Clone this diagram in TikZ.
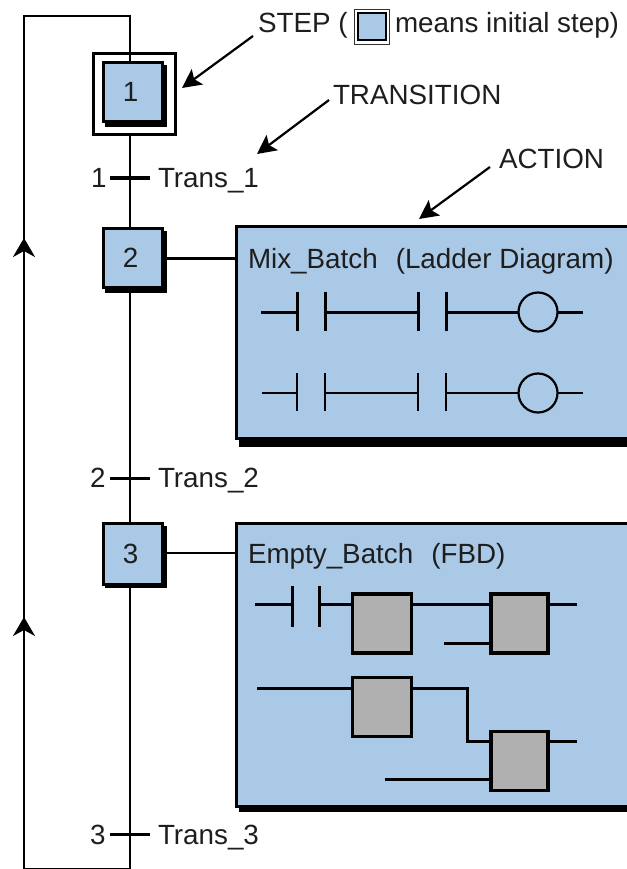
\documentclass[tikz,border=0pt]{standalone}
\usepackage{fontspec}
\setmainfont{Liberation Sans}
\usetikzlibrary{arrows.meta}
\definecolor{stepblue}{HTML}{A9C9E7}
\definecolor{blockgrey}{HTML}{B0B0B0}
\definecolor{ink}{HTML}{1E1E1E}
\tikzset{
  lbl/.style={inner sep=0pt,outer sep=0pt,anchor=base west,text=ink,font=\fontsize{27.8}{30}\selectfont},
  num/.style={inner sep=0pt,outer sep=0pt,anchor=center,text=ink,font=\fontsize{27.8}{30}\selectfont},
  stepbox/.style={draw=black,line width=3pt,fill=stepblue,inner sep=0pt,outer sep=0pt,minimum width=59pt,minimum height=59pt},
  shadowfill/.style={fill=black},
  actionbox/.style={draw=black,line width=3pt,fill=stepblue},
  block/.style={draw=black,line width=3.2pt,fill=blockgrey,inner sep=0pt,outer sep=0pt,minimum width=59pt,minimum height=59pt},
  wire/.style={draw=black,line width=3pt},
  thinwire/.style={draw=black,line width=2pt},
  flow/.style={draw=black,line width=2.2pt},
  pointer/.style={draw=black,line width=2.2pt,-{Stealth[length=19pt,width=19pt,inset=4pt]}},
  uparrow/.style={draw=black,line width=2.2pt,-{Stealth[length=19pt,width=22pt,inset=6pt]}},
}
\begin{document}
\begin{tikzpicture}[x=1pt,y=-1pt]
\useasboundingbox (0,0) rectangle (626,869);
% outer frame of the initial step
\node[draw=black,line width=3pt,fill=white,inner sep=0pt,outer sep=0pt,minimum width=82pt,minimum height=81pt] (s1o) at (134,94.5) {};
% shadows
\fill[shadowfill] (105,65) rectangle (167,127);
\fill[shadowfill] (105,231) rectangle (167,292.5);
\fill[shadowfill] (105,526) rectangle (167,588);
\fill[shadowfill] (239,230) rectangle (630,447);
\fill[shadowfill] (239,526) rectangle (630,812);
% steps
\node[stepbox] (s1) at (132.5,92) {};
\node[num] at (130.5,92) {1};
\node[stepbox] (s2) at (132.5,258) {};
\node[num] at (130.5,258) {2};
\node[stepbox,minimum height=61pt] (s3) at (132.5,553.5) {};
\node[num] at (130.5,553.5) {3};
% action boxes
\node[actionbox,inner sep=0pt,outer sep=0pt,minimum width=394pt,minimum height=212pt] (a1) at (433,332.5) {};
\node[actionbox,inner sep=0pt,outer sep=0pt,minimum width=394pt,minimum height=283pt] (a2) at (433,664.5) {};
% flow line coordinates
\coordinate (top) at (130,16);
\coordinate (topl) at (24,16);
\coordinate (botl) at (24,869.3);
\coordinate (bot) at (130,869.3);
\coordinate (t1) at (130,178);
\coordinate (t2) at (130,478);
\coordinate (t3) at (130,834);
\coordinate (t1a) at (110,178); \coordinate (t1b) at (150,178);
\coordinate (t2a) at (110,478); \coordinate (t2b) at (150,478);
\coordinate (t3a) at (110,834); \coordinate (t3b) at (150,834);
\draw[flow] (130,61) -- (top) -- (topl) -- (botl) -- (bot) -- (130,588);
\draw[flow] (130,136) -- (130,228);
\draw[flow] (130,292) -- (130,522);
\draw[wire] (t1a) -- (t1b);
\draw[wire] (t2a) -- (t2b);
\draw[wire] (t3a) -- (t3b);
\node[lbl] (n1) at (91,187) {1};
\node[lbl] (n2) at (90,487) {2};
\node[lbl] (n3) at (90,844) {3};
\node[lbl] (tr1) at (158,187) {Trans\_1};
\node[lbl] (tr2) at (158,487) {Trans\_2};
\node[lbl] (tr3) at (158,844) {Trans\_3};
% return arrows
\coordinate (u1a) at (24,258); \coordinate (u1b) at (24,238);
\coordinate (u2a) at (24,636); \coordinate (u2b) at (24,617);
\draw[uparrow] (u1a) -- (u1b);
\draw[uparrow] (u2a) -- (u2b);
% action links
\draw[line width=3pt] (165,258) -- (a1.west |- 0,258);
\draw[line width=2pt] (165,553) -- (a2.west |- 0,553);
% callouts
\node[lbl] (stepl) at (258,33) {STEP (};
\node[draw=black!80,line width=1.3pt,fill=white,inner sep=0pt,outer sep=0pt,minimum width=35pt,minimum height=35pt] (legendo) at (372,27) {};
\node[draw=black,line width=1.6pt,fill=stepblue,inner sep=0pt,outer sep=0pt,minimum width=28pt,minimum height=27pt] (legendi) at (372,26.5) {};
\node[lbl] (means) at (395,33) {means initial step)};
\node[lbl] (transl) at (333,105) {TRANSITION};
\node[lbl] (actl) at (499,168) {ACTION};
\coordinate (p1s) at (253,36); \coordinate (p1e) at (182,88);
\coordinate (p2s) at (329,100); \coordinate (p2e) at (257,154);
\coordinate (p3s) at (490,167); \coordinate (p3e) at (419,219);
\draw[pointer] (p1s) -- (p1e);
\draw[pointer] (p2s) -- (p2e);
\draw[pointer] (p3s) -- (p3e);
% ladder
\node[lbl] (mix) at (248,268) {Mix\_Batch\hspace{18pt}(Ladder Diagram)};
\foreach \xa/\xb/\xc/\xd/\ya/\yb/\yc/\ln in {261/297/325/418/312/292/331/wire,262/297/325/418/393/373/411/thinwire}{
  \draw[\ln] (\xa,\ya) -- (\xb,\ya);
  \draw[\ln] (\xb,\yb) -- (\xb,\yc);
  \draw[\ln] (\xc,\yb) -- (\xc,\yc);
  \draw[\ln] (\xc,\ya) -- (\xd,\ya);
  \draw[\ln] (\xd,\yb) -- (\xd,\yc);
  \draw[\ln] (446,\yb) -- (446,\yc);
  \draw[\ln] (446,\ya) -- (518,\ya);
  \draw[\ln] (558,\ya) -- (583,\ya);
}
\node[draw=black,line width=2.2pt,circle,inner sep=0pt,outer sep=0pt,minimum size=39pt] (c1) at (538,312) {};
\node[draw=black,line width=2.2pt,circle,inner sep=0pt,outer sep=0pt,minimum size=39pt] (c2) at (538,393) {};
% FBD
\node[lbl] (emp) at (248,563) {Empty\_Batch\hspace{18pt}(FBD)};
\node[block] (ba) at (382,623.5) {};
\node[block,minimum width=57pt] (bb) at (519.5,623.5) {};
\node[block] (bc) at (382,707) {};
\node[block,minimum width=57pt] (bd) at (519.5,761) {};
\coordinate (k1) at (255,604); \coordinate (k2) at (292,604); \coordinate (k3) at (319,604);
\coordinate (k1t) at (292,586); \coordinate (k1b) at (292,627);
\coordinate (k2t) at (319,586); \coordinate (k2b) at (319,627);
\draw[wire] (k1) -- (k2);
\draw[wire] (k1t) -- (k1b);
\draw[wire] (k2t) -- (k2b);
\draw[wire] (k3) -- (ba.west |- k3);
\draw[wire] (ba.east |- k3) -- (bb.west |- k3);
\coordinate (boa) at (577,604);
\draw[wire] (bb.east |- boa) -- (boa);
\coordinate (bi) at (444,643);
\draw[wire] (bi) -- (bb.west |- bi);
\coordinate (ci) at (257,688);
\draw[wire] (ci) -- (bc.west |- ci);
\coordinate (cbend) at (467,688); \coordinate (cbend2) at (467,741);
\draw[wire] (bc.east |- ci) -- (cbend) -- (cbend2) -- (bd.west |- cbend2);
\coordinate (doa) at (577,741);
\draw[wire] (bd.east |- doa) -- (doa);
\coordinate (di) at (385,779);
\draw[wire] (di) -- (bd.west |- di);
\end{tikzpicture}
\end{document}
